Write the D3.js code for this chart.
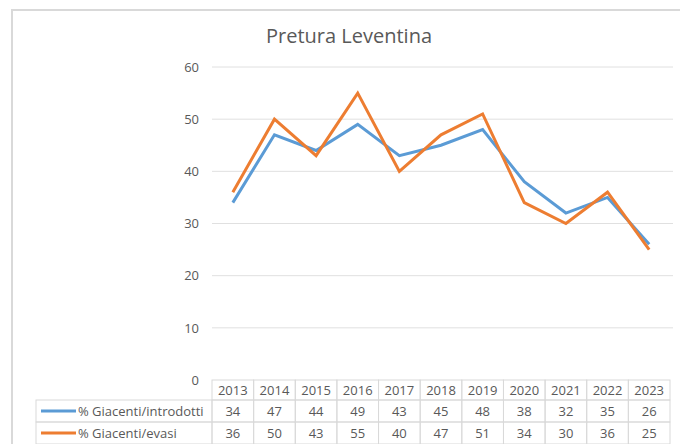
<!DOCTYPE html>
<html>
<head>
<meta charset="utf-8">
<script src="https://cdn.jsdelivr.net/npm/d3@7"></script>
<style>
  body { margin: 0; background: #fff; }
  svg { display: block; font-family: "Open Sans", "Liberation Sans", sans-serif; }
</style>
</head>
<body>
<svg id="chart" width="680" height="444"></svg>
<script>
const years = ["2013", "2014", "2015", "2016", "2017", "2018", "2019", "2020", "2021", "2022", "2023"];
const introdotti = [34, 47, 44, 49, 43, 45, 48, 38, 32, 35, 26];
const evasi = [36, 50, 43, 55, 40, 47, 51, 34, 30, 36, 25];
const yTicks = [0, 10, 20, 30, 40, 50, 60];

const series = [
  { name: "% Giacenti/introdotti", values: introdotti, color: "#5B9BD5" },
  { name: "% Giacenti/evasi", values: evasi, color: "#ED7D31" },
];

const svg = d3.select("#chart");
const textColor = "#595959";
const gridColor = "#d9d9d9";

// chart frame
svg.append("rect")
  .attr("x", 12).attr("y", 10)
  .attr("width", 700).attr("height", 460)
  .attr("fill", "none")
  .attr("stroke", "#d9d9d9")
  .attr("stroke-width", 2);

const plot = { left: 212, right: 670, top: 67, bottom: 380 };

const x = d3.scaleBand().domain(years).range([plot.left, plot.right]);
const y = d3.scaleLinear().domain([0, 60]).range([plot.bottom, plot.top]);

svg.append("text")
  .attr("x", 349).attr("y", 43)
  .attr("text-anchor", "middle")
  .attr("fill", textColor)
  .attr("font-size", 20)
  .text("Pretura Leventina");

// gridlines
svg.append("g")
  .selectAll("line")
  .data(yTicks.filter((d) => d > 0))
  .enter()
  .append("line")
  .attr("x1", plot.left).attr("x2", plot.right + 3)
  .attr("y1", (d) => y(d)).attr("y2", (d) => y(d))
  .attr("stroke", "#e0e0e0")
  .attr("stroke-width", 1);

// y axis labels
const yAxis = d3.axisLeft(y).tickValues(yTicks).tickSize(0).tickPadding(13);
const ya = svg.append("g")
  .attr("transform", `translate(${plot.left},0)`)
  .call(yAxis);
ya.select(".domain").remove();
ya.selectAll("text")
  .attr("fill", textColor)
  .attr("font-size", 13)
  .attr("font-family", "Open Sans, sans-serif");

// lines
const line = d3.line()
  .x((d, i) => x(years[i]) + x.bandwidth() / 2)
  .y((d) => y(d));

svg.append("g")
  .selectAll("path")
  .data(series)
  .enter()
  .append("path")
  .attr("d", (s) => line(s.values))
  .attr("fill", "none")
  .attr("stroke", (s) => s.color)
  .attr("stroke-width", 3)
  .attr("stroke-linejoin", "miter");

// data table
const rowH = 22;
const headerTop = plot.bottom;
const headerH = 20;
const legendLeft = 36;
const table = svg.append("g");

// header row cells
table.selectAll(".hcell")
  .data(years)
  .enter()
  .append("rect")
  .attr("x", (d) => x(d)).attr("y", headerTop)
  .attr("width", x.bandwidth()).attr("height", headerH)
  .attr("fill", "none").attr("stroke", gridColor);

table.selectAll(".htext")
  .data(years)
  .enter()
  .append("text")
  .attr("x", (d) => x(d) + x.bandwidth() / 2)
  .attr("y", headerTop + 15)
  .attr("text-anchor", "middle")
  .attr("fill", textColor)
  .attr("font-size", 13)
  .text((d) => d);

series.forEach((s, r) => {
  const top = headerTop + headerH + r * rowH;
  table.append("rect")
    .attr("x", legendLeft).attr("y", top)
    .attr("width", plot.left - legendLeft).attr("height", rowH)
    .attr("fill", "none").attr("stroke", gridColor);
  table.append("line")
    .attr("x1", 41).attr("x2", 76)
    .attr("y1", top + rowH / 2).attr("y2", top + rowH / 2)
    .attr("stroke", s.color).attr("stroke-width", 3);
  table.append("text")
    .attr("x", 78).attr("y", top + 15.5)
    .attr("fill", textColor)
    .attr("font-size", 13)
    .text(s.name);
  table.selectAll(null)
    .data(s.values)
    .enter()
    .append("rect")
    .attr("x", (d, i) => x(years[i])).attr("y", top)
    .attr("width", x.bandwidth()).attr("height", rowH)
    .attr("fill", "none").attr("stroke", gridColor);
  table.selectAll(null)
    .data(s.values)
    .enter()
    .append("text")
    .attr("x", (d, i) => x(years[i]) + x.bandwidth() / 2)
    .attr("y", top + 15.5)
    .attr("text-anchor", "middle")
    .attr("fill", textColor)
    .attr("font-size", 13)
    .text((d) => d);
});
</script>
</body>
</html>
